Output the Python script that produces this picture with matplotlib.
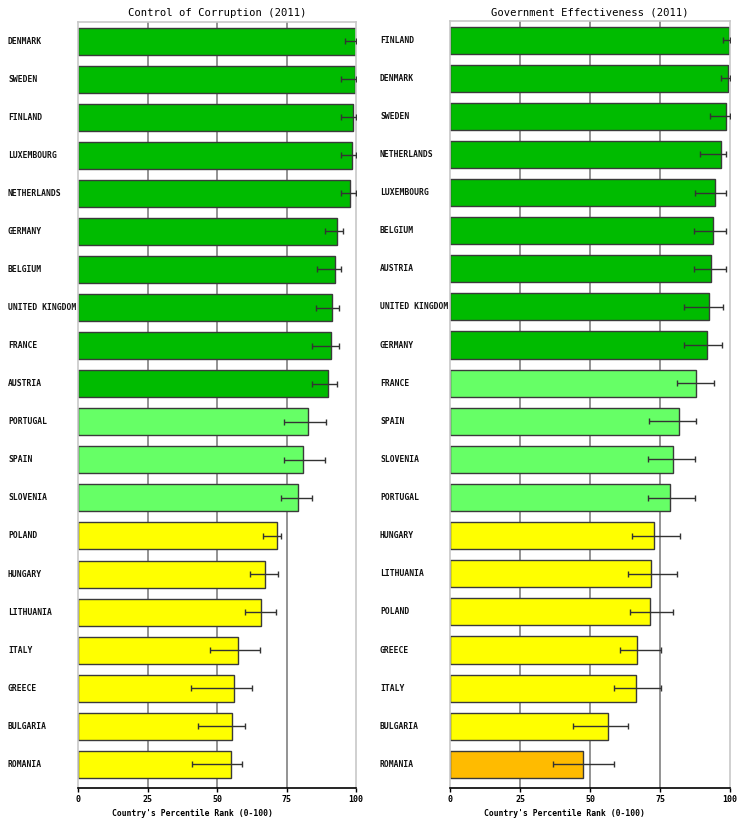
import matplotlib
matplotlib.use('Agg')
import matplotlib.pyplot as plt
import matplotlib.transforms as mtransforms

# Control of Corruption (2011): percentile rank with error margins
cc_countries = ['DENMARK', 'SWEDEN', 'FINLAND', 'LUXEMBOURG', 'NETHERLANDS',
                'GERMANY', 'BELGIUM', 'UNITED KINGDOM', 'FRANCE', 'AUSTRIA',
                'PORTUGAL', 'SPAIN', 'SLOVENIA', 'POLAND', 'HUNGARY',
                'LITHUANIA', 'ITALY', 'GREECE', 'BULGARIA', 'ROMANIA']
cc_rank = [100.0, 99.5, 99.1, 98.6, 97.7, 93.0, 92.5, 91.5, 91.0, 90.1,
           82.9, 81.0, 79.3, 71.7, 67.4, 66.0, 57.4, 56.0, 55.5, 55.0]
cc_low = [96.0, 94.6, 94.6, 94.5, 94.6, 89.0, 86.0, 85.5, 84.0, 84.0,
          74.2, 74.2, 73.2, 66.4, 62.0, 60.1, 47.4, 40.6, 43.0, 41.1]
cc_high = [100.0, 100.0, 100.0, 100.0, 100.0, 95.4, 94.5, 94.0, 94.0, 93.2,
           89.2, 88.7, 84.3, 73.2, 71.8, 71.4, 65.6, 62.7, 60.0, 59.0]

# Government Effectiveness (2011)
ge_countries = ['FINLAND', 'DENMARK', 'SWEDEN', 'NETHERLANDS', 'LUXEMBOURG',
                'BELGIUM', 'AUSTRIA', 'UNITED KINGDOM', 'GERMANY', 'FRANCE',
                'SPAIN', 'SLOVENIA', 'PORTUGAL', 'HUNGARY', 'LITHUANIA',
                'POLAND', 'GREECE', 'ITALY', 'BULGARIA', 'ROMANIA']
ge_rank = [99.8, 99.2, 98.5, 96.7, 94.8, 93.8, 93.3, 92.4, 91.9, 88.0,
           81.9, 79.6, 78.7, 72.9, 71.9, 71.4, 66.7, 66.4, 56.3, 47.4]
ge_low = [97.6, 96.7, 92.9, 89.4, 87.5, 87.1, 87.1, 83.7, 83.7, 81.0,
          71.0, 70.6, 70.6, 64.9, 63.5, 64.4, 60.8, 58.5, 44.0, 36.8]
ge_high = [100.0, 100.0, 100.0, 98.6, 98.6, 98.6, 98.6, 97.6, 97.0, 94.3,
           88.0, 87.6, 87.4, 82.0, 81.1, 79.6, 75.2, 75.2, 63.7, 58.6]

x_ticks = [0, 25, 50, 75, 100]


def tier_color(v):
    if v >= 90:
        return '#00bb00'
    if v >= 75:
        return '#66ff66'
    if v >= 50:
        return '#ffff00'
    return '#ffbb00'


def draw_panel(fig, rect, title, countries, rank, low, high, label_x):
    ax = fig.add_axes(rect)
    ypos = list(range(len(countries)))
    colors = [tier_color(v) for v in rank]

    # grid lines behind the bars
    for t in x_ticks[1:-1]:
        ax.axvline(t, color='#808080', lw=1.2, zorder=0)

    ax.barh(ypos, rank, height=0.71, color=colors, edgecolor='#3a3a3a',
            linewidth=1.0, zorder=2)
    xerr = [[r - l for r, l in zip(rank, low)], [h - r for r, h in zip(rank, high)]]
    ax.errorbar(rank, ypos, xerr=xerr, fmt='none', ecolor='#333333',
                elinewidth=1.0, capsize=2.5, capthick=1.0, zorder=3)

    ax.set_xlim(0, 100)
    ax.set_ylim(len(countries) - 1 + 0.62, -0.5)
    ax.set_yticks([])
    ax.set_xticks(x_ticks)
    ax.set_xticklabels([str(t) for t in x_ticks], family='DejaVu Sans Mono',
                       fontsize=6, fontweight='bold')
    ax.tick_params(axis='x', length=3, width=1, pad=2, color='black')

    for side in ['top', 'left', 'right']:
        ax.spines[side].set_color('#c8c8c8')
        ax.spines[side].set_linewidth(1.2)
    ax.spines['bottom'].set_color('black')
    ax.spines['bottom'].set_linewidth(1.2)

    trans = mtransforms.blended_transform_factory(fig.transFigure, ax.transData)
    for y, name in zip(ypos, countries):
        ax.text(label_x, y, name, transform=trans, ha='left', va='center',
                family='DejaVu Sans Mono', fontsize=5.8, fontweight='bold',
                color='#111111')

    ax.set_title(title, family='DejaVu Sans Mono', fontsize=7.6, pad=4)
    ax.set_xlabel("Country's Percentile Rank (0-100)", family='DejaVu Sans Mono',
                  fontsize=5.8, fontweight='bold')
    ax.xaxis.set_label_coords(0.41, -0.027)
    return ax


fig = plt.figure(figsize=(7.38, 8.22), dpi=100)
fig.patch.set_facecolor('white')

W, H = 738.0, 822.0
draw_panel(fig, [78 / W, 1 - 788 / H, 278 / W, (788 - 22) / H],
           'Control of Corruption (2011)', cc_countries, cc_rank, cc_low, cc_high,
           8 / W)
draw_panel(fig, [450 / W, 1 - 788 / H, 280 / W, (788 - 21) / H],
           'Government Effectiveness (2011)', ge_countries, ge_rank, ge_low, ge_high,
           380 / W)

fig.savefig('out.png', dpi=100)
